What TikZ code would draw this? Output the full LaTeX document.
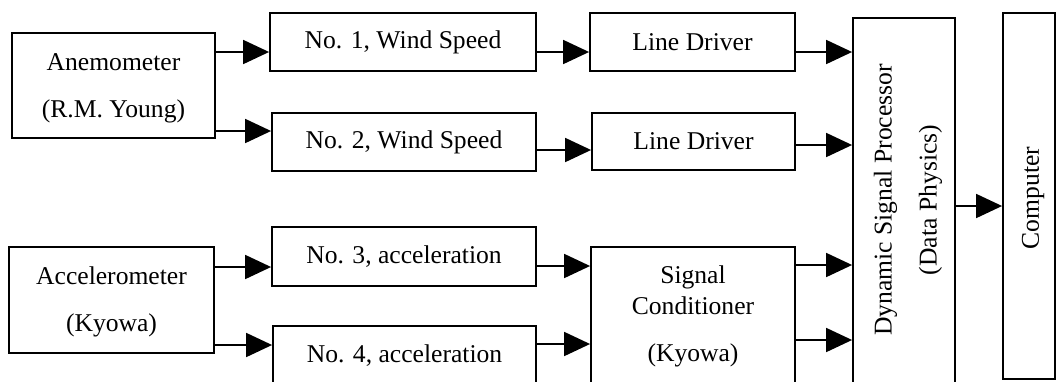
\documentclass[tikz,border=0pt]{standalone}
\usepackage{fontspec}
\setmainfont{Liberation Serif}
\usetikzlibrary{arrows.meta,calc}
\begin{document}
\begin{tikzpicture}[x=0.5pt,y=-0.5pt,
  box/.style={draw,line width=0.9pt,inner sep=0pt,minimum width=#1},
  lbl/.style={font=\fontsize{12.8}{15}\selectfont,inner sep=0pt,align=center},
  arr/.style={line width=0.9pt,-{Triangle[length=13pt,width=12pt]}}]
\useasboundingbox (0,0) rectangle (1056,381);
\clip (0,0) rectangle (1056,381);
% boxes
\node[box=101.5pt,minimum height=52.5pt] (anem) at (113.5,85.5) {};
\node[box=133pt,minimum height=29pt] (n1) at (403,42) {};
\node[box=132pt,minimum height=29pt] (n2) at (404,142) {};
\node[box=102.5pt,minimum height=29pt] (ld1) at (692.5,42) {};
\node[box=101.5pt,minimum height=28.5pt] (ld2) at (693.5,141.5) {};
\node[box=102.5pt,minimum height=53pt] (acc) at (111.5,300) {};
\node[box=132pt,minimum height=29.5pt] (n3) at (404,256.5) {};
\node[box=131.5pt,minimum height=30pt] (n4) at (404.5,356) {};
\node[box=102pt,minimum height=91.5pt] (sc) at (693,338.5) {};
\node[box=51pt,minimum height=201pt] (dsp) at (904,219) {};
\node[box=26pt,minimum height=183pt] (comp) at (1029,196) {};
% texts
\node[lbl] (anemt) at (113.5,88) {Anemometer\\[8.5pt](R.M. Young)};
\node[lbl] (acct) at (111.5,302) {Accelerometer\\[8.5pt](Kyowa)};
\node[lbl] (n1t) at (n1) {No. 1, Wind Speed};
\node[lbl] (n2t) at (n2) {No. 2, Wind Speed};
\node[lbl] (n3t) at (n3) {No. 3, acceleration};
\node[lbl] (n4t) at (404.5,356) {No. 4, acceleration};
\node[lbl] (ld1t) at (ld1) {Line Driver};
\node[lbl] (ld2t) at (ld2) {Line Driver};
\node[lbl,anchor=base] (sct1) at (693,283) {Signal};
\node[lbl,anchor=base] (sct2) at (693,314) {Conditioner};
\node[lbl,anchor=base] (sct3) at (693,361) {(Kyowa)};
\node[lbl,rotate=90] (dspt) at (908,200) {Dynamic Signal Processor\\[7.5pt](Data Physics)};
\node[lbl,rotate=90] (compt) at (1033,198) {Computer};
% arrows
\draw[arr] (anem.east |- {0,52}) -- (n1.west |- {0,52});
\draw[arr] (anem.east |- {0,131}) -- (n2.west |- {0,131});
\draw[arr] (n1.east |- {0,52}) -- (ld1.west |- {0,52});
\draw[arr] (n2.east |- {0,150}) -- (ld2.west |- {0,150});
\draw[arr] (ld1.east |- {0,52}) -- (dsp.west |- {0,52});
\draw[arr] (ld2.east |- {0,145}) -- (dsp.west |- {0,145});
\draw[arr] (acc.east |- {0,267}) -- (n3.west |- {0,267});
\draw[arr] (acc.east |- {0,345}) -- (n4.west |- {0,345});
\draw[arr] (n3.east |- {0,266}) -- (sc.west |- {0,266});
\draw[arr] (n4.east |- {0,344}) -- (sc.west |- {0,344});
\draw[arr] (sc.east |- {0,265}) -- (dsp.west |- {0,265});
\draw[arr] (sc.east |- {0,340}) -- (dsp.west |- {0,340});
\draw[arr] (dsp.east |- {0,206}) -- (comp.west |- {0,206});
\end{tikzpicture}
\end{document}
